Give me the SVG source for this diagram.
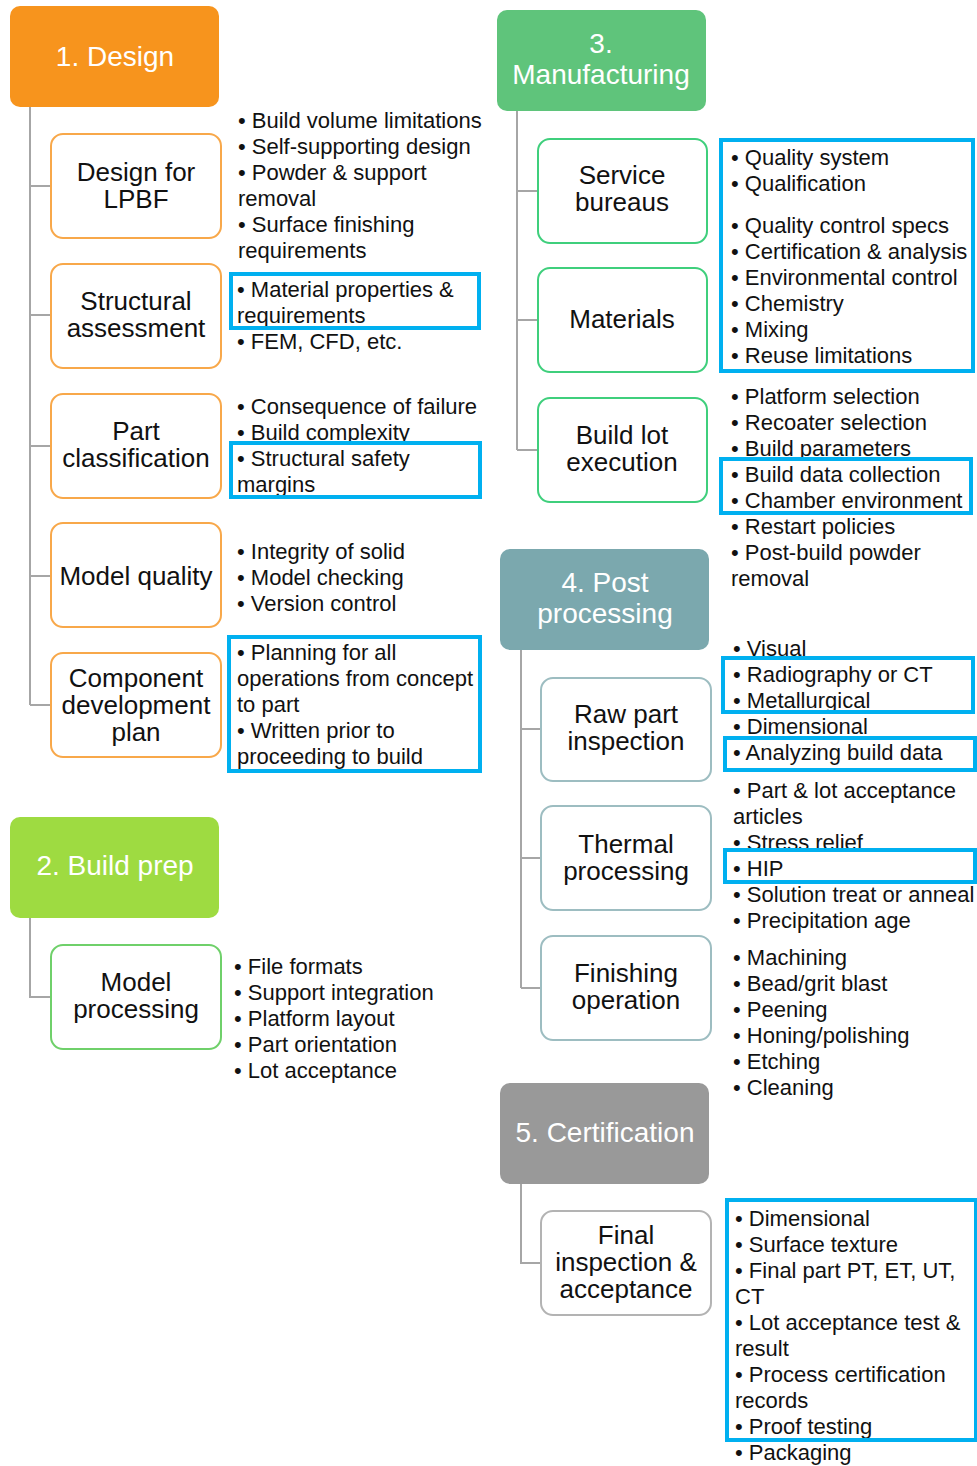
<svg xmlns="http://www.w3.org/2000/svg" width="977" height="1466" viewBox="0 0 977 1466">
  <style>
    text { font-family: "Liberation Sans", Arial, sans-serif; }
    .hd { font-size: 28px; fill: #ffffff; text-anchor: middle; }
    .nd { font-size: 26px; fill: #111111; text-anchor: middle; }
    .bl { font-size: 22px; fill: #111111; }
    .conn { fill: none; stroke: #a6a6a6; stroke-width: 2; }
    .hl { fill: none; stroke: #00b0f0; stroke-width: 4; }
    .c-or { fill: #ffffff; stroke: #f8a84a; stroke-width: 2; }
    .c-lg { fill: #ffffff; stroke: #6fd06a; stroke-width: 2; }
    .c-gr { fill: #ffffff; stroke: #3fcf7c; stroke-width: 2; }
    .c-tl { fill: #ffffff; stroke: #9dbdc1; stroke-width: 2; }
    .c-gy { fill: #ffffff; stroke: #b3b3b3; stroke-width: 2; }
  </style>

  <!-- tree connectors -->
  <g id="connectors">
    <path class="conn" d="M30 107 V705 M30 186 H51 M30 315 H51 M30 446 H51 M30 576 H51 M30 705 H51"/>
    <path class="conn" d="M30 918 V997 H51"/>
    <path class="conn" d="M517 111 V450 M517 191 H538 M517 320 H538 M517 450 H538"/>
    <path class="conn" d="M521 650 V988 M521 729 H541 M521 858 H541 M521 988 H541"/>
    <path class="conn" d="M521 1184 V1263 H541"/>
  </g>

  <!-- 1. Design -->
  <g id="design">
    <rect x="10" y="6" width="209" height="101" rx="10" fill="#f7941d"/>
    <text class="hd" x="115" y="66">1. Design</text>
  </g>
  <g id="design-lpbf">
    <rect class="c-or" x="51" y="134" width="170" height="104" rx="12"/>
    <text class="nd" x="136" y="181">Design for</text>
    <text class="nd" x="136" y="208">LPBF</text>
    <text class="bl" x="238" y="128">• Build volume limitations</text>
    <text class="bl" x="238" y="154">• Self-supporting design</text>
    <text class="bl" x="238" y="180">• Powder &amp; support</text>
    <text class="bl" x="238" y="206">removal</text>
    <text class="bl" x="238" y="232">• Surface finishing</text>
    <text class="bl" x="238" y="258">requirements</text>
  </g>
  <g id="structural-assessment">
    <rect class="c-or" x="51" y="264" width="170" height="104" rx="12"/>
    <text class="nd" x="136" y="310">Structural</text>
    <text class="nd" x="136" y="337">assessment</text>
    <text class="bl" x="237" y="297">• Material properties &amp;</text>
    <text class="bl" x="237" y="323">requirements</text>
    <text class="bl" x="237" y="349">• FEM, CFD, etc.</text>
    <rect class="hl" x="231" y="274" width="248" height="54"/>
  </g>
  <g id="part-classification">
    <rect class="c-or" x="51" y="394" width="170" height="104" rx="12"/>
    <text class="nd" x="136" y="440">Part</text>
    <text class="nd" x="136" y="467">classification</text>
    <text class="bl" x="237" y="414">• Consequence of failure</text>
    <text class="bl" x="237" y="440">• Build complexity</text>
    <rect x="231" y="443" width="249" height="54" fill="#ffffff"/>
    <text class="bl" x="237" y="466">• Structural safety</text>
    <text class="bl" x="237" y="492">margins</text>
    <rect class="hl" x="231" y="443" width="249" height="54"/>
  </g>
  <g id="model-quality">
    <rect class="c-or" x="51" y="523" width="170" height="104" rx="12"/>
    <text class="nd" x="136" y="585">Model quality</text>
    <text class="bl" x="237" y="559">• Integrity of solid</text>
    <text class="bl" x="237" y="585">• Model checking</text>
    <text class="bl" x="237" y="611">• Version control</text>
  </g>
  <g id="component-plan">
    <rect class="c-or" x="51" y="653" width="170" height="104" rx="12"/>
    <text class="nd" x="136" y="687">Component</text>
    <text class="nd" x="136" y="714">development</text>
    <text class="nd" x="136" y="741">plan</text>
    <text class="bl" x="237" y="660">• Planning for all</text>
    <text class="bl" x="237" y="686">operations from concept</text>
    <text class="bl" x="237" y="712">to part</text>
    <text class="bl" x="237" y="738">• Written prior to</text>
    <text class="bl" x="237" y="764">proceeding to build</text>
    <rect class="hl" x="229" y="637" width="251" height="134"/>
  </g>

  <!-- 2. Build prep -->
  <g id="build-prep">
    <rect x="10" y="817" width="209" height="101" rx="10" fill="#9edb41"/>
    <text class="hd" x="115" y="875">2. Build prep</text>
  </g>
  <g id="model-processing">
    <rect class="c-lg" x="51" y="945" width="170" height="104" rx="12"/>
    <text class="nd" x="136" y="991">Model</text>
    <text class="nd" x="136" y="1018">processing</text>
    <text class="bl" x="234" y="974">• File formats</text>
    <text class="bl" x="234" y="1000">• Support integration</text>
    <text class="bl" x="234" y="1026">• Platform layout</text>
    <text class="bl" x="234" y="1052">• Part orientation</text>
    <text class="bl" x="234" y="1078">• Lot acceptance</text>
  </g>

  <!-- 3. Manufacturing -->
  <g id="manufacturing">
    <rect x="497" y="10" width="209" height="101" rx="10" fill="#5fc47b"/>
    <text class="hd" x="601" y="53">3.</text>
    <text class="hd" x="601" y="84">Manufacturing</text>
  </g>
  <g id="service-bureaus">
    <rect class="c-gr" x="538" y="139" width="169" height="104" rx="12"/>
    <text class="nd" x="622" y="184">Service</text>
    <text class="nd" x="622" y="211">bureaus</text>
    <text class="bl" x="731" y="165">• Quality system</text>
    <text class="bl" x="731" y="191">• Qualification</text>
  </g>
  <g id="materials">
    <rect class="c-gr" x="538" y="268" width="169" height="104" rx="12"/>
    <text class="nd" x="622" y="328">Materials</text>
    <text class="bl" x="731" y="233">• Quality control specs</text>
    <text class="bl" x="731" y="259">• Certification &amp; analysis</text>
    <text class="bl" x="731" y="285">• Environmental control</text>
    <text class="bl" x="731" y="311">• Chemistry</text>
    <text class="bl" x="731" y="337">• Mixing</text>
    <text class="bl" x="731" y="363">• Reuse limitations</text>
    <rect class="hl" x="721" y="140" width="252" height="231"/>
  </g>
  <g id="build-lot-execution">
    <rect class="c-gr" x="538" y="398" width="169" height="104" rx="12"/>
    <text class="nd" x="622" y="444">Build lot</text>
    <text class="nd" x="622" y="471">execution</text>
    <text class="bl" x="731" y="404">• Platform selection</text>
    <text class="bl" x="731" y="430">• Recoater selection</text>
    <text class="bl" x="731" y="456">• Build parameters</text>
    <rect x="721" y="459" width="250" height="54" fill="#ffffff"/>
    <text class="bl" x="731" y="482">• Build data collection</text>
    <text class="bl" x="731" y="508">• Chamber environment</text>
    <text class="bl" x="731" y="534">• Restart policies</text>
    <text class="bl" x="731" y="560">• Post-build powder</text>
    <text class="bl" x="731" y="586">removal</text>
    <rect class="hl" x="721" y="459" width="250" height="54"/>
  </g>

  <!-- 4. Post processing -->
  <g id="post-processing">
    <rect x="500" y="549" width="209" height="101" rx="10" fill="#7ba8ae"/>
    <text class="hd" x="605" y="592">4. Post</text>
    <text class="hd" x="605" y="623">processing</text>
  </g>
  <g id="raw-part-inspection">
    <rect class="c-tl" x="541" y="678" width="170" height="103" rx="12"/>
    <text class="nd" x="626" y="723">Raw part</text>
    <text class="nd" x="626" y="750">inspection</text>
    <text class="bl" x="733" y="656">• Visual</text>
    <text class="bl" x="733" y="682">• Radiography or CT</text>
    <text class="bl" x="733" y="708">• Metallurgical</text>
    <text class="bl" x="733" y="734">• Dimensional</text>
    <text class="bl" x="733" y="760">• Analyzing build data</text>
    <text class="bl" x="733" y="798">• Part &amp; lot acceptance</text>
    <text class="bl" x="733" y="824">articles</text>
    <rect class="hl" x="723" y="658" width="250" height="54"/>
    <rect class="hl" x="725" y="738" width="250" height="32"/>
  </g>
  <g id="thermal-processing">
    <rect class="c-tl" x="541" y="806" width="170" height="104" rx="12"/>
    <text class="nd" x="626" y="853">Thermal</text>
    <text class="nd" x="626" y="880">processing</text>
    <text class="bl" x="733" y="850">• Stress relief</text>
    <text class="bl" x="733" y="876">• HIP</text>
    <text class="bl" x="733" y="902">• Solution treat or anneal</text>
    <text class="bl" x="733" y="928">• Precipitation age</text>
    <rect class="hl" x="725" y="850" width="250" height="32"/>
  </g>
  <g id="finishing-operation">
    <rect class="c-tl" x="541" y="936" width="170" height="104" rx="12"/>
    <text class="nd" x="626" y="982">Finishing</text>
    <text class="nd" x="626" y="1009">operation</text>
    <text class="bl" x="733" y="965">• Machining</text>
    <text class="bl" x="733" y="991">• Bead/grit blast</text>
    <text class="bl" x="733" y="1017">• Peening</text>
    <text class="bl" x="733" y="1043">• Honing/polishing</text>
    <text class="bl" x="733" y="1069">• Etching</text>
    <text class="bl" x="733" y="1095">• Cleaning</text>
  </g>

  <!-- 5. Certification -->
  <g id="certification">
    <rect x="500" y="1083" width="209" height="101" rx="10" fill="#999999"/>
    <text class="hd" x="605" y="1142">5. Certification</text>
  </g>
  <g id="final-inspection">
    <rect class="c-gy" x="541" y="1211" width="170" height="104" rx="12"/>
    <text class="nd" x="626" y="1244">Final</text>
    <text class="nd" x="626" y="1271">inspection &amp;</text>
    <text class="nd" x="626" y="1298">acceptance</text>
    <text class="bl" x="735" y="1226">• Dimensional</text>
    <text class="bl" x="735" y="1252">• Surface texture</text>
    <text class="bl" x="735" y="1278">• Final part PT, ET, UT,</text>
    <text class="bl" x="735" y="1304">CT</text>
    <text class="bl" x="735" y="1330">• Lot acceptance test &amp;</text>
    <text class="bl" x="735" y="1356">result</text>
    <text class="bl" x="735" y="1382">• Process certification</text>
    <text class="bl" x="735" y="1408">records</text>
    <text class="bl" x="735" y="1434">• Proof testing</text>
    <text class="bl" x="735" y="1460">• Packaging</text>
    <rect class="hl" x="727" y="1200" width="249" height="240"/>
  </g>
</svg>
